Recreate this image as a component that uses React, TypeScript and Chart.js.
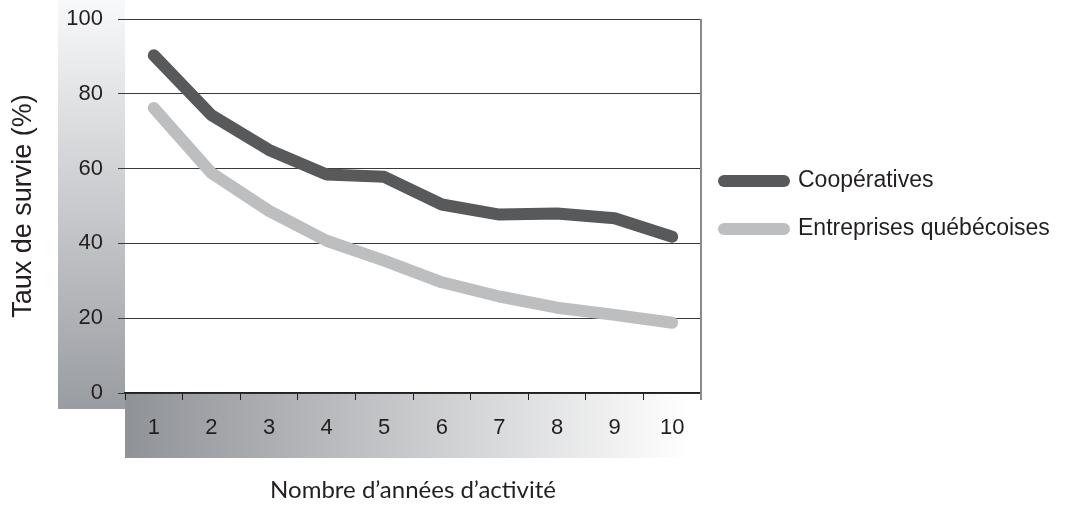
import React, { useEffect, useRef } from "react";
import { Chart, registerables } from "chart.js";

Chart.register(...registerables);

const categories = ["1", "2", "3", "4", "5", "6", "7", "8", "9", "10"];
const cooperatives = [90.3, 74.3, 65.0, 58.4, 57.8, 50.4, 47.7, 48.0, 46.7, 41.8];
const entreprises = [76.2, 58.8, 48.7, 40.7, 35.4, 29.6, 25.8, 22.8, 20.9, 18.8];
const yTicks = [0, 20, 40, 60, 80, 100];
const seriesNames = ["Coopératives", "Entreprises québécoises"];
const xTitle = "Nombre d’années d’activité";
const yTitle = "Taux de survie (%)";

const TEXT = "#231f20";
const SANS = "'Liberation Sans', Arial, sans-serif";

Chart.defaults.font.family = SANS;

const bandsPlugin = {
  id: "bands",
  beforeDraw(chart: any) {
    const { ctx, chartArea } = chart;
    const { left, right, bottom } = chartArea;
    ctx.save();
    const gy = ctx.createLinearGradient(0, 0, 0, bottom + 16);
    gy.addColorStop(0, "#f8f9fa");
    gy.addColorStop(1, "#999ca1");
    ctx.fillStyle = gy;
    ctx.fillRect(58, 0, left - 58, bottom + 16);
    const bx = right - 11;
    const gx = ctx.createLinearGradient(left, 0, bx, 0);
    gx.addColorStop(0, "#8f9297");
    gx.addColorStop(1, "#ffffff");
    ctx.fillStyle = gx;
    ctx.fillRect(left, bottom + 1, bx - left, 64);
    ctx.restore();
  },
  afterDraw(chart: any) {
    const { ctx, chartArea } = chart;
    ctx.save();
    ctx.strokeStyle = "#8a8a8a";
    ctx.lineWidth = 2;
    ctx.beginPath();
    ctx.moveTo(chartArea.right, chartArea.top);
    ctx.lineTo(chartArea.right, chartArea.bottom + 7);
    ctx.stroke();
    // legend
    const x0 = chartArea.right + 17;
    const cy = (chartArea.top + chartArea.bottom) / 2;
    const offsets = [-25, 23];
    chart.data.datasets.forEach((ds: any, i: number) => {
      const y = cy + offsets[i];
      ctx.strokeStyle = ds.borderColor;
      ctx.lineWidth = 12;
      ctx.lineCap = "round";
      ctx.beginPath();
      ctx.moveTo(x0 + 6, y);
      ctx.lineTo(x0 + 66, y);
      ctx.stroke();
      ctx.fillStyle = TEXT;
      ctx.font = `23px ${SANS}`;
      ctx.textBaseline = "middle";
      ctx.textAlign = "left";
      ctx.fillText(ds.label, x0 + 80, y);
    });
    ctx.restore();
  },
};

export default function App() {
  const ref = useRef<HTMLCanvasElement | null>(null);
  useEffect(() => {
    if (!ref.current) return;
    const chart = new Chart(ref.current, {
      type: "line",
      data: {
        labels: categories,
        datasets: [
          {
            label: seriesNames[0],
            data: cooperatives,
            borderColor: "#58595b",
            backgroundColor: "#58595b",
            borderWidth: 12,
            borderCapStyle: "round",
            borderJoinStyle: "round",
            pointRadius: 0,
            tension: 0,
          },
          {
            label: seriesNames[1],
            data: entreprises,
            borderColor: "#bcbec0",
            backgroundColor: "#bcbec0",
            borderWidth: 12,
            borderCapStyle: "round",
            borderJoinStyle: "round",
            pointRadius: 0,
            tension: 0,
          },
        ],
      },
      options: {
        animation: false,
        responsive: false,
        maintainAspectRatio: false,
        layout: { padding: { top: 19, left: 0, right: 383, bottom: 0 } },
        plugins: {
          tooltip: { enabled: false },
          legend: { display: false },
        },
        scales: {
          x: {
            type: "category",
            offset: true,
            grid: {
              offset: true,
              drawOnChartArea: false,
              drawTicks: true,
              tickLength: 7,
              color: "#231f20",
              tickColor: "#231f20",
            },
            border: { display: true, color: "#231f20", width: 1.5 },
            ticks: {
              padding: 15,
              color: TEXT,
              font: { family: SANS, size: 22 },
              maxRotation: 0,
            },
            title: {
              display: true,
              text: xTitle,
              color: TEXT,
              font: { family: "Lato, sans-serif", size: 24 },
              padding: { top: 0, bottom: 5 },
            },
            afterFit: (s: any) => {
              s.height = 117;
              s.paddingLeft = 0;
              s.paddingRight = 0;
            },
          },
          y: {
            min: 0,
            max: 100,
            afterBuildTicks: (s: any) => {
              s.ticks = yTicks.map((v) => ({ value: v }));
            },
            grid: {
              color: "#3a3a3a",
              lineWidth: 1,
              drawTicks: true,
              tickLength: 7,
              tickColor: "#3a3a3a",
            },
            border: { display: false },
            ticks: {
              padding: 15,
              color: TEXT,
              font: { family: SANS, size: 22 },
            },
            title: {
              display: true,
              text: yTitle,
              color: TEXT,
              font: { family: SANS, size: 27 },
              padding: { top: 7, bottom: 0 },
            },
            afterFit: (s: any) => {
              s.width = 125;
              s.paddingTop = 0;
              s.paddingBottom = 0;
            },
          },
        },
      },
      plugins: [bandsPlugin],
    });
    return () => chart.destroy();
  }, []);
  return (
    <div style={{ position: "fixed", left: 0, top: 0, width: 1084, height: 510, background: "#fff" }}>
      <canvas ref={ref} width={1084} height={510} style={{ width: 1084, height: 510, display: "block" }} />
    </div>
  );
}
